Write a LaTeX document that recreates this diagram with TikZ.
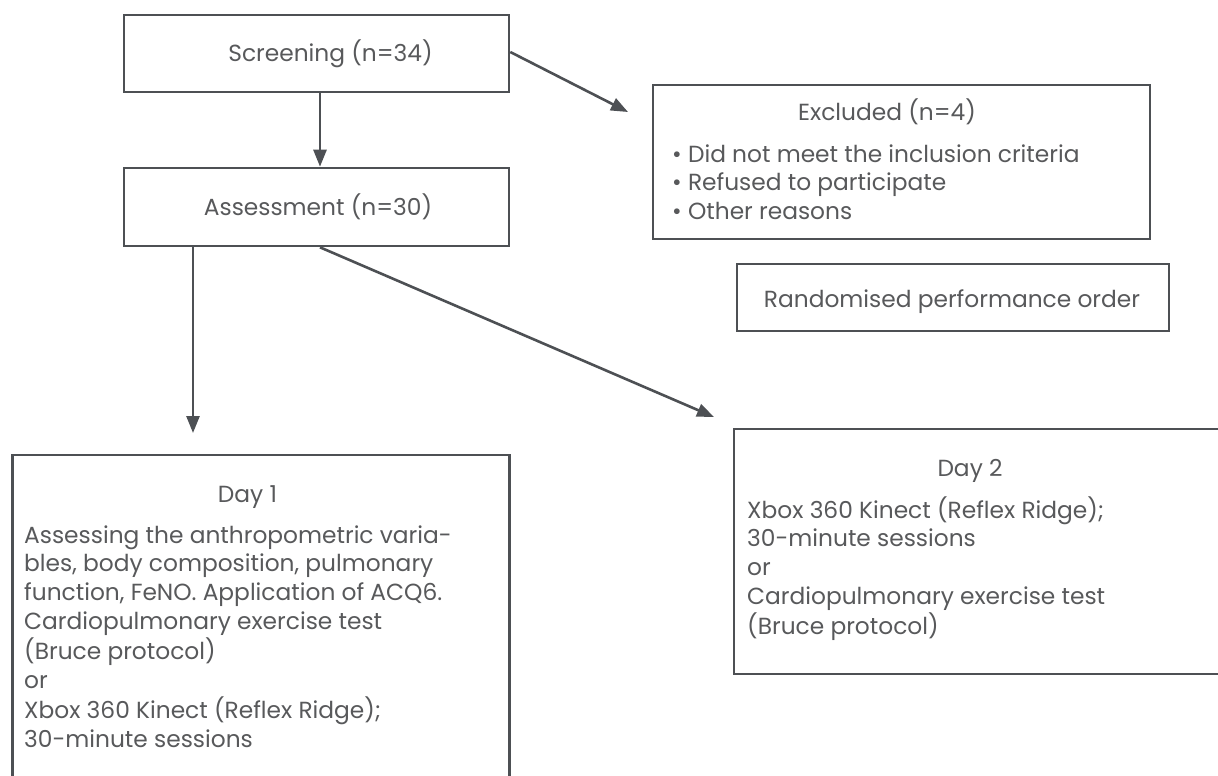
\documentclass[tikz,border=0pt]{standalone}
\usepackage{fontspec}
\setmainfont{Poppins}
\usetikzlibrary{arrows.meta,calc}
\definecolor{linec}{HTML}{4D5054}
\definecolor{textc}{HTML}{58595B}
\newlength\myreflen
\begin{document}
\settowidth\myreflen{\fontsize{10}{12}\selectfont Cardiopulmonary exercise test}%
\pgfmathsetmacro\myfs{10*358/\myreflen}%
\def\myfont{\fontsize{\myfs}{28.7}\selectfont}%
\begin{tikzpicture}[x=1pt,y=-1pt,
  box/.style={draw=linec, line width=2.6pt, inner sep=0pt},
  arr/.style={draw=linec, line width=2.6pt, -{Triangle[length=17pt,width=13pt]}},
  txt/.style={text=textc, font=\myfont, inner sep=0pt, anchor=base},
  body/.style={txt, anchor=base west},
]
\useasboundingbox[fill=white] (0,0) rectangle (1218,776);
\clip (0,0) rectangle (1218,776);

% boxes
\node[box, minimum width=385pt, minimum height=77pt] (scr) at (316.5,53.5) {};
\node[box, minimum width=385pt, minimum height=78pt] (ass) at (316.5,207) {};
\node[box, minimum width=497pt, minimum height=154pt] (exc) at (901.5,162) {};
\node[box, minimum width=432pt, minimum height=67pt] (rnd) at (953,297.5) {};
\node[box, minimum width=497pt, minimum height=345pt] (d1) at (261,627.5) {};
\node[box, minimum width=497pt, minimum height=245pt] (d2) at (982.5,551.5) {};

% texts
\node[txt] (scrt) at (330.5,62) {Screening (n=34)};
\node[txt] (asst) at (318,215) {Assessment (n=30)};
\node[txt] (exct) at (887,120) {Excluded (n=4)};
\node[body] (excb) at (672,162) {\begin{tabular}[t]{@{}l@{}}• Did not meet the inclusion criteria\\• Refused to participate\\• Other reasons\end{tabular}};
\node[txt] (rndt) at (952,307) {Randomised performance order};
\node[txt] (d1t) at (247.5,502) {Day 1};
\node[body] (d1b) at (24,543) {\begin{tabular}[t]{@{}l@{}}Assessing the anthropometric varia-\\bles, body composition, pulmonary\\function, FeNO. Application of ACQ6.\\Cardiopulmonary exercise test\\(Bruce protocol)\\or\\Xbox 360 Kinect (Reflex Ridge);\\30-minute sessions\end{tabular}};
\node[txt] (d2t) at (970,476) {Day 2};
\node[body] (d2b) at (747,518) {\begin{tabular}[t]{@{}l@{}}Xbox 360 Kinect (Reflex Ridge);\\30-minute sessions\\or\\Cardiopulmonary exercise test\\(Bruce protocol)\end{tabular}};

% connectors
\coordinate (excin) at (628,112);
\coordinate (d1in) at (193,433);
\coordinate (d2in) at (714,417);
\draw[arr] ([xshift=3.5pt]scr.south) -- ([xshift=3.5pt]ass.north);
\draw[arr] ([yshift=1.5pt]scr.east) -- (excin);
\draw[arr] ([xshift=-123.5pt]ass.south) -- (d1in);
\draw[arr] ([xshift=3.5pt]ass.south) -- (d2in);
\end{tikzpicture}
\end{document}
